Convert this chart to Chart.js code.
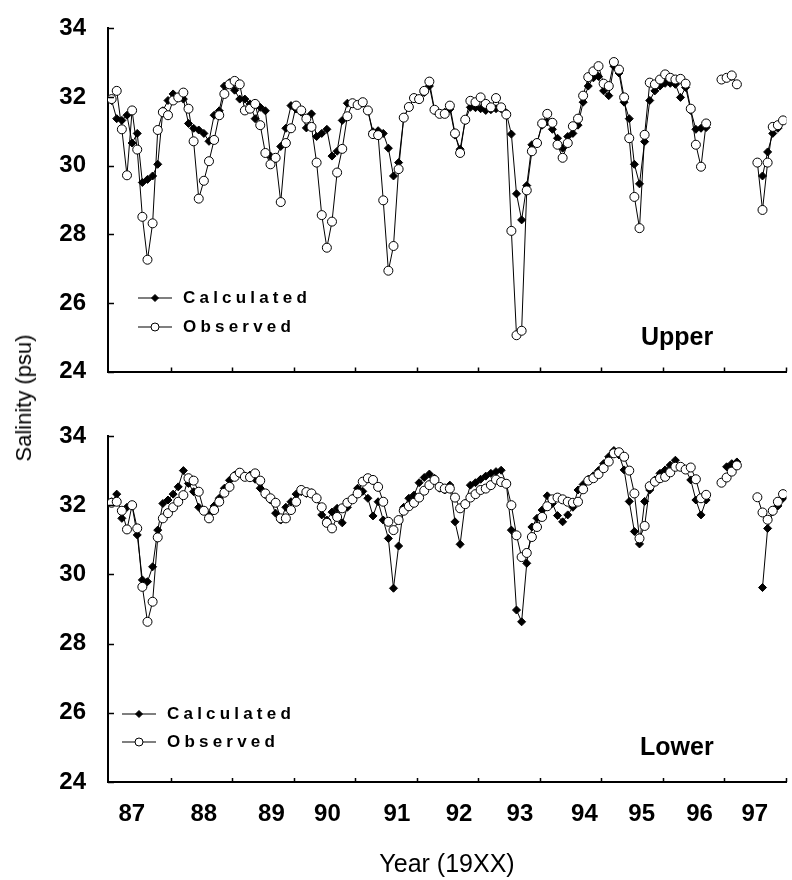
<!DOCTYPE html>
<html>
<head>
<meta charset="utf-8">
<title>Salinity</title>
<script src="https://cdn.jsdelivr.net/npm/chart.js@4.4.1/dist/chart.umd.min.js"></script>
<style>
  body { margin: 0; background: #fff; }
  #page { position: relative; width: 792px; height: 880px; overflow: hidden; font-family: "Liberation Sans", Arial, sans-serif; color: #000; }
  #upperBox { position: absolute; left: 0; top: 0; }
  #lowerBox { position: absolute; left: 0; top: 400px; }
  #yTitle { position: absolute; left: 24px; top: 398px; transform: translate(-50%, -50%) rotate(-90deg); font-size: 22px; white-space: nowrap; }
  #xTitle { position: absolute; left: 447px; top: 863px; transform: translate(-50%, -50%); font-size: 25px; white-space: nowrap; }
</style>
</head>
<body>
<div id="page">
  <div id="upperBox"><canvas id="upperChart" width="792" height="400"></canvas></div>
  <div id="lowerBox"><canvas id="lowerChart" width="792" height="480"></canvas></div>
  <div id="yTitle">Salinity (psu)</div>
  <div id="xTitle">Year (19XX)</div>
</div>
<script>
// monthly samples, Jan 1987 onward (null = no sample)
const obsUpper = [
  31.94, 32.18, 31.06, 29.72, 31.61, 30.47, 28.51, 27.26, 28.32, 31.04, 31.56, 31.47,
  31.90, 31.99, 32.13, 31.66, 30.71, 29.04, 29.56, 30.13, 30.75, 31.47, 32.09, 32.37,
  32.47, 32.37, 31.61, 31.66, 31.80, 31.18, 30.37, 30.04, 30.23, 28.94, 30.66, 31.09,
  31.75, 31.61, 31.37, 31.13, 30.09, 28.56, 27.61, 28.37, 29.80, 30.49, 31.44, 31.82,
  31.77, 31.85, 31.61, 30.92, 30.89, 28.99, 26.94, 27.66, 29.90, 31.40, 31.71, 31.97,
  31.94, 32.18, 32.45, 31.63, 31.51, 31.51, 31.75, 30.94, 30.37, 31.34, 31.89, 31.85,
  31.99, 31.80, 31.70, 31.97, 31.70, 31.49, 28.10, 25.06, 25.19, 29.28, 30.42, 30.66,
  31.23, 31.51, 31.25, 30.61, 30.23, 30.66, 31.15, 31.37, 32.04, 32.58, 32.75, 32.90,
  32.39, 32.32, 33.02, 32.80, 31.99, 30.80, 29.09, 28.18, 30.90, 32.42, 32.37, 32.51,
  32.66, 32.56, 32.51, 32.53, 32.39, 31.66, 30.61, 29.97, 31.23, null, null, 32.51,
  32.56, 32.63, 32.37, null, null, null, 30.09, 28.71, 30.09, 31.13, 31.18, 31.32
];
const calcUpper = [
  31.90, 31.37, 31.32, 31.47, 30.66, 30.94, 29.51, 29.60, 29.70, 30.04, 31.60, 31.90,
  32.09, 32.00, 31.94, 31.23, 31.09, 31.04, 30.94, 30.71, 31.47, 31.60, 32.32, 32.42,
  32.20, 31.94, 31.94, 31.80, 31.37, 31.70, 31.60, 30.28, 30.20, 30.56, 31.09, 31.75,
  31.65, 31.56, 31.10, 31.51, 30.85, 30.94, 31.06, 30.28, 30.42, 31.32, 31.82, 31.80,
  31.77, 31.82, 31.61, 30.99, 31.02, 30.94, 30.51, 29.70, 30.09, 31.40, 31.71, 31.97,
  31.94, 32.13, 32.32, 31.61, 31.51, 31.56, 31.65, 30.89, 30.48, 31.32, 31.70, 31.69,
  31.66, 31.61, 31.63, 31.66, 31.66, 31.54, 30.92, 29.18, 28.42, 29.42, 30.61, 30.66,
  31.18, 31.28, 31.06, 30.80, 30.51, 30.85, 30.94, 31.18, 31.85, 32.32, 32.56, 32.60,
  32.18, 32.04, 32.90, 32.70, 31.85, 31.37, 30.04, 29.47, 30.70, 31.90, 32.18, 32.32,
  32.40, 32.40, 32.37, 31.99, 32.28, 31.61, 31.06, 31.09, 31.11, null, null, 32.50,
  32.55, 32.60, 32.35, null, null, null, null, 29.70, 30.40, 30.94, 31.09, 31.32
];
const obsLower = [
  32.07, 32.10, 31.84, 31.30, 32.00, 31.33, 29.64, 28.63, 29.21, 31.07, 31.62, 31.77,
  31.94, 32.10, 32.29, 32.78, 32.71, 32.39, 31.84, 31.62, 31.86, 32.10, 32.36, 32.53,
  32.82, 32.94, 32.82, 32.81, 32.92, 32.71, 32.34, 32.20, 32.07, 31.62, 31.62, 31.86,
  32.10, 32.44, 32.38, 32.34, 32.20, 31.94, 31.49, 31.33, 31.66, 31.91, 32.07, 32.17,
  32.34, 32.68, 32.78, 32.73, 32.53, 32.10, 31.52, 31.28, 31.57, 31.84, 31.97, 32.07,
  32.22, 32.42, 32.58, 32.73, 32.53, 32.48, 32.48, 32.22, 31.91, 32.03, 32.22, 32.32,
  32.44, 32.48, 32.58, 32.74, 32.67, 32.62, 32.00, 31.13, 30.50, 30.62, 31.08, 31.37,
  31.66, 31.97, 32.17, 32.22, 32.17, 32.10, 32.07, 32.10, 32.46, 32.71, 32.78, 32.90,
  33.07, 33.26, 33.50, 33.53, 33.40, 33.00, 32.34, 31.04, 31.40, 32.55, 32.68, 32.78,
  32.82, 32.95, 33.11, 33.11, 33.03, 33.09, 32.75, 32.20, 32.30, null, null, 32.65,
  32.80, 32.97, 33.15, null, null, null, 32.23, 31.79, 31.58, 31.84, 32.10, 32.32
];
const calcLower = [
  32.10, 32.32, 31.62, 31.94, 31.98, 31.14, 29.84, 29.79, 30.22, 31.28, 32.05, 32.15,
  32.32, 32.53, 33.00, 32.63, 32.39, 31.94, 31.84, 31.72, 31.98, 32.20, 32.49, 32.72,
  32.87, 32.92, 32.84, 32.87, 32.75, 32.49, 32.30, 32.15, 31.77, 31.57, 31.94, 32.10,
  32.32, 32.39, 32.34, 32.36, 32.22, 31.72, 31.57, 31.80, 31.91, 31.49, 31.94, 32.20,
  32.49, 32.40, 32.20, 31.69, 32.10, 31.57, 31.04, 29.60, 30.82, 31.94, 32.20, 32.29,
  32.65, 32.80, 32.90, 32.78, 32.49, 32.44, 32.58, 31.52, 30.87, 32.05, 32.58, 32.65,
  32.75, 32.84, 32.92, 32.97, 33.01, 32.63, 31.28, 28.97, 28.63, 30.32, 31.37, 31.62,
  31.86, 32.27, 32.05, 31.70, 31.52, 31.72, 31.94, 32.44, 32.60, 32.75, 32.85, 33.00,
  33.20, 33.40, 33.58, 33.45, 33.02, 32.11, 31.24, 30.88, 32.11, 32.44, 32.73, 32.92,
  33.02, 33.16, 33.30, 33.11, 33.03, 32.73, 32.15, 31.72, 32.15, null, null, null,
  33.11, 33.20, 33.25, null, null, null, null, 29.62, 31.33, 31.81, 31.98, 32.20
];

const yearLabels = ["87", "88", "89", "90", "91", "92", "93", "94", "95", "96", "97"];
const labelPos   = [87.37, 88.54, 89.64, 90.55, 91.68, 92.69, 93.68, 94.73, 95.66, 96.60, 97.50];
const yearMarks  = [88, 89, 90, 91, 92, 93, 94, 95, 96, 97, 98];

// sample times (mid-month)
const months = obsUpper.map((_, i) => 87 + (i + 0.5) / 12);

const FONT = '"Liberation Sans", Arial, Helvetica, sans-serif';
Chart.defaults.font.family = FONT;
Chart.defaults.color = '#000';

function series(label, values, isObs) {
  return {
    label: label,
    data: months.map((x, i) => ({ x: x, y: values[i] })),
    borderColor: '#000',
    borderWidth: 1,
    backgroundColor: isObs ? '#fff' : '#000',
    pointStyle: isObs ? 'circle' : 'rectRot',
    pointRadius: isObs ? 4.5 : 4,
    pointBorderWidth: 1,
    pointBorderColor: '#000',
    pointBackgroundColor: isObs ? '#fff' : '#000',
    spanGaps: false,
    tension: 0,
    order: isObs ? 0 : 1
  };
}

// tick marks, panel name and in-plot legend
const decor = {
  id: 'decor',
  afterDraw(chart, args, opts) {
    const { ctx, chartArea } = chart;
    const x = chart.scales.x, y = chart.scales.y;
    ctx.save();
    ctx.strokeStyle = '#000';
    ctx.lineWidth = 1.5;
    ctx.beginPath();
    y.ticks.forEach(t => {
      const py = Math.round(y.getPixelForValue(t.value)) + 0.5;
      ctx.moveTo(chartArea.left, py);
      ctx.lineTo(chartArea.left + 6, py);
    });
    yearMarks.forEach(v => {
      const px = Math.round(x.getPixelForValue(v)) + 0.5;
      ctx.moveTo(px, chartArea.bottom);
      ctx.lineTo(px, chartArea.bottom - 4);
    });
    ctx.stroke();

    ctx.fillStyle = '#000';
    ctx.font = 'bold 25px ' + FONT;
    ctx.textBaseline = 'alphabetic';
    ctx.fillText(opts.title, opts.titleX, opts.titleY);

    // legend: Calculated first, then Observed
    const items = chart.data.datasets.slice().sort((a, b) => b.order - a.order);
    ctx.font = 'bold 17px ' + FONT;
    ctx.textBaseline = 'middle';
    items.forEach((ds, k) => {
      const ly = opts.legendY + k * opts.legendGap;
      ctx.lineWidth = 1.2;
      ctx.strokeStyle = '#000';
      ctx.beginPath();
      ctx.moveTo(opts.legendX, ly);
      ctx.lineTo(opts.legendX + 34, ly);
      ctx.stroke();
      ctx.fillStyle = ds.pointBackgroundColor;
      ctx.lineWidth = 1;
      Chart.helpers.drawPoint(ctx, { pointStyle: ds.pointStyle, radius: ds.pointRadius - 0.5, rotation: 0, borderWidth: 1 }, opts.legendX + 17, ly);
      ctx.fillStyle = '#000';
      let tx = opts.legendX + 45;
      for (const ch of ds.label) {
        ctx.fillText(ch, tx, ly);
        tx += ctx.measureText(ch).width + 4.2;
      }
    });
    ctx.restore();
  }
};

function makePanel(canvasId, calc, obs, cfg) {
  return new Chart(document.getElementById(canvasId), {
    type: 'line',
    data: {
      datasets: [series('Observed', obs, true), series('Calculated', calc, false)]
    },
    options: {
      responsive: false,
      animation: false,
      devicePixelRatio: 1,
      layout: { padding: { top: cfg.top, right: 0, left: 0, bottom: 0 } },
      plugins: {
        legend: { display: false },
        tooltip: { enabled: false },
        decor: cfg.decor
      },
      scales: {
        x: {
          type: 'linear',
          min: 86.983,
          max: 98.015,
          grid: { display: false },
          border: { display: true, color: '#000', width: 2 },
          afterBuildTicks: cfg.showYears ? (s => { s.ticks = labelPos.map(v => ({ value: v })); }) : undefined,
          afterFit: s => { s.height = cfg.xHeight; },
          ticks: {
            display: cfg.showYears,
            autoSkip: false,
            maxRotation: 0,
            padding: 10,
            font: { size: 24, weight: 'bold' },
            color: '#000',
            callback: (v, i) => yearLabels[i]
          }
        },
        y: {
          min: 24,
          max: 34,
          grid: { display: false },
          border: { display: true, color: '#000', width: 2 },
          afterFit: s => { s.width = 108; },
          ticks: {
            stepSize: 2,
            padding: 14,
            font: { size: 24, weight: 'bold' },
            color: '#000'
          }
        }
      }
    },
    plugins: [decor]
  });
}

makePanel('upperChart', calcUpper, obsUpper, {
  top: 23, xHeight: 27, showYears: false,
  decor: { title: 'Upper', titleX: 641, titleY: 345, legendX: 138, legendY: 298, legendGap: 29 }
});
makePanel('lowerChart', calcLower, obsLower, {
  top: 36, xHeight: 98, showYears: true,
  decor: { title: 'Lower', titleX: 640, titleY: 355, legendX: 122, legendY: 314, legendGap: 28 }
});
</script>
</body>
</html>
